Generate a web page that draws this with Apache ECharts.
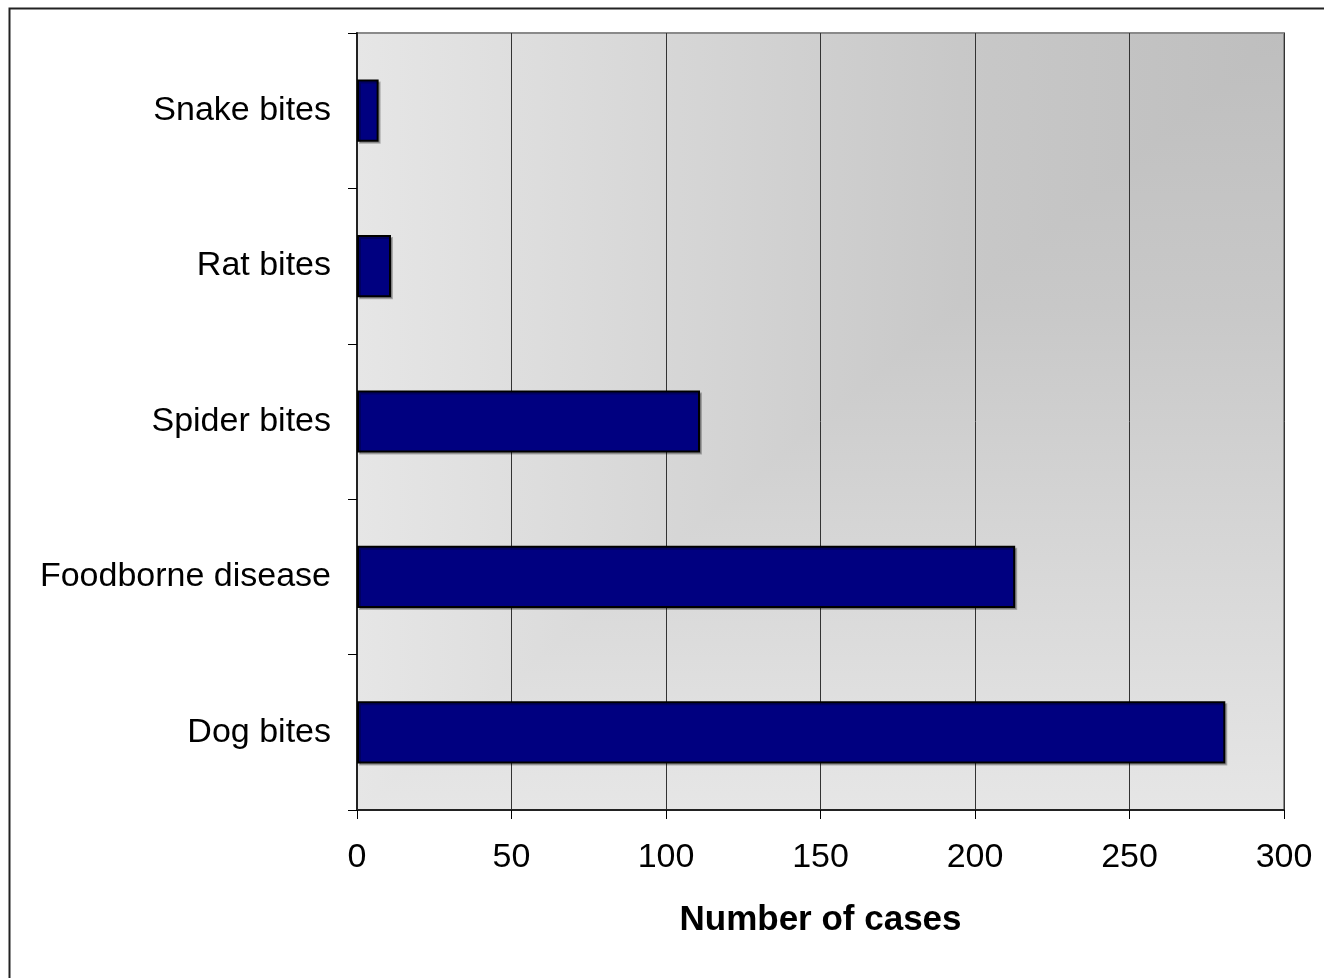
<!DOCTYPE html>
<html>
<head>
<meta charset="utf-8">
<title>Number of cases</title>
<script src="https://cdn.jsdelivr.net/npm/echarts@6/dist/echarts.min.js"></script>
<style>
  html, body { margin: 0; padding: 0; background: #fff; }
  #chart { width: 1324px; height: 978px; }
</style>
</head>
<body>
<div id="chart"></div>
<script>
// Categories listed bottom to top along the vertical axis
const categories = ['Dog bites', 'Foodborne disease', 'Spider bites', 'Rat bites', 'Snake bites'];
const cases = [281, 213, 111, 11, 7];
const xTicks = [0, 50, 100, 150, 200, 250, 300];
const axisTitle = 'Number of cases';

const FONT = "'Liberation Sans', Arial, sans-serif";
const DARK = '#bebebe';
const LIGHT = '#e6e6e6';

const chart = echarts.init(document.getElementById('chart'));

// Plot background: "from corner" shading, darkest at the top-right corner.
// A horizontally shaded rectangle, with the lower-right half (below the
// diagonal) covered by a vertically shaded triangle.
function renderBackdrop(params, api) {
  const cs = params.coordSys;
  const x0 = cs.x, y0 = cs.y, x1 = cs.x + cs.width, y1 = cs.y + cs.height;
  const stops = (dark) => dark
    ? [{ offset: 0, color: DARK }, { offset: 0.35, color: '#c8c8c8' }, { offset: 1, color: LIGHT }]
    : [{ offset: 0, color: LIGHT }, { offset: 0.65, color: '#c8c8c8' }, { offset: 1, color: DARK }];
  return {
    type: 'group',
    children: [
      {
        type: 'rect',
        shape: { x: x0, y: y0, width: cs.width, height: cs.height },
        style: { fill: new echarts.graphic.LinearGradient(0, 0, 1, 0, stops(false)) }
      },
      {
        type: 'polygon',
        shape: { points: [[x1, y0], [x1, y1], [x0, y1]] },
        style: { fill: new echarts.graphic.LinearGradient(0, 0, 0, 1, stops(true)) }
      }
    ]
  };
}

chart.setOption({
  animation: false,
  backgroundColor: '#ffffff',
  textStyle: { fontFamily: FONT },
  graphic: [{
    type: 'rect',
    left: 7, top: 6,
    shape: { width: 1400, height: 1000 },
    style: { fill: 'none', stroke: '#222', lineWidth: 2 },
    silent: true
  }],
  grid: {
    left: 357, top: 33, right: 40, bottom: 168,
    show: true,
    backgroundColor: 'transparent',
    borderColor: '#8a8a8a',
    borderWidth: 2
  },
  xAxis: {
    type: 'value',
    min: xTicks[0],
    max: xTicks[xTicks.length - 1],
    interval: xTicks[1] - xTicks[0],
    name: axisTitle,
    nameLocation: 'middle',
    nameGap: 93,
    nameTextStyle: { fontFamily: FONT, fontSize: 35, fontWeight: 'bold', color: '#000' },
    axisLine: { show: true, lineStyle: { color: '#222', width: 2 } },
    axisTick: { show: true, length: 9, lineStyle: { color: '#000', width: 1 } },
    axisLabel: { fontFamily: FONT, fontSize: 34, color: '#000', margin: 31 },
    splitLine: { show: true, lineStyle: { color: '#333', width: 1 } }
  },
  yAxis: {
    type: 'category',
    data: categories,
    axisLine: { show: true, lineStyle: { color: '#222', width: 2 } },
    axisTick: { show: true, length: 9, lineStyle: { color: '#000', width: 1 } },
    axisLabel: { fontFamily: FONT, fontSize: 34, color: '#000', margin: 26 },
    splitLine: { show: false }
  },
  series: [
    {
      type: 'custom',
      silent: true,
      z: -1,
      renderItem: renderBackdrop,
      data: [[0, 0]]
    },
    {
      type: 'bar',
      data: cases,
      barWidth: '40%',
      itemStyle: {
        color: '#000080',
        borderColor: '#000',
        borderWidth: 2,
        shadowColor: 'rgba(0,0,0,0.25)',
        shadowOffsetX: 2,
        shadowOffsetY: 2,
        shadowBlur: 0
      }
    }
  ]
});
</script>
</body>
</html>
